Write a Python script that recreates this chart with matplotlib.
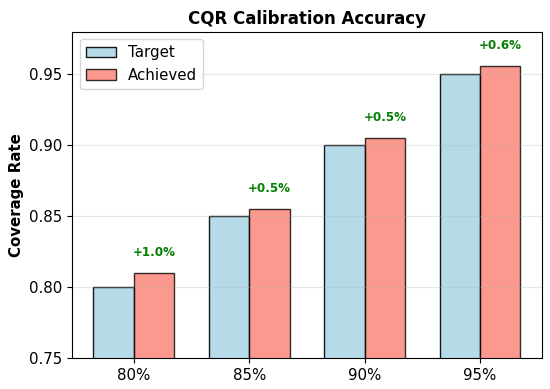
import numpy as np
import matplotlib.pyplot as plt

levels = ["80%", "85%", "90%", "95%"]
target = [0.80, 0.85, 0.90, 0.95]
achieved = [0.81, 0.855, 0.905, 0.956]

fig, ax = plt.subplots(figsize=(5.5, 3.89), dpi=100)

x = np.arange(len(levels))
w = 0.35
ax.bar(x - w/2, target, w, label="Target", color="lightblue", alpha=0.9,
       edgecolor="black", linewidth=1)
ax.bar(x + w/2, achieved, w, label="Achieved", color="salmon", alpha=0.8,
       edgecolor="black", linewidth=1)

for i in range(len(levels)):
    diff = (achieved[i] - target[i]) * 100
    ax.text(x[i] + w/2, achieved[i] + 0.01, f"+{diff:.1f}%", ha="center", va="bottom",
            color="green", fontweight="bold", fontsize=8.6)

ax.set_xticks(x)
ax.set_xticklabels(levels)
ax.tick_params(labelsize=10.8)
ax.set_ylabel("Coverage Rate", fontweight="bold", fontsize=10.8)
ax.set_title("CQR Calibration Accuracy", fontweight="bold", fontsize=12)
ax.set_ylim(0.75, 0.98)
ax.grid(axis="y", alpha=0.3)
ax.legend(loc="upper left", fontsize=10.8)

fig.subplots_adjust(left=0.131, right=0.985, top=0.918, bottom=0.08)
plt.savefig("out.png", dpi=100)
plt.close()
